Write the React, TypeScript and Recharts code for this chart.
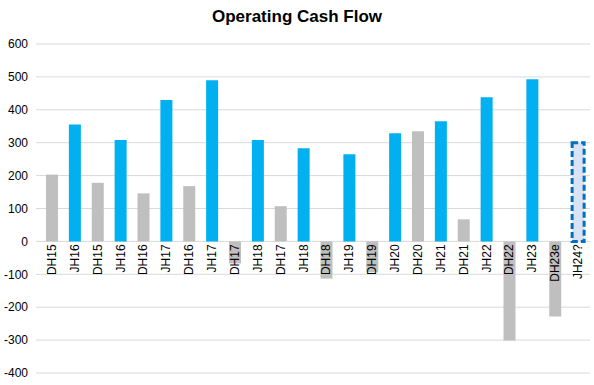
import React from "react";
import { BarChart, Bar, XAxis, YAxis, CartesianGrid, Cell, LabelList } from "recharts";

const categories = [
  "DH15", "JH16", "DH15", "JH16", "DH16", "JH17", "DH16", "JH17",
  "DH17", "JH18", "DH17", "JH18", "DH18", "JH19", "DH19", "JH20",
  "DH20", "JH21", "DH21", "JH22", "DH22", "JH23", "DH23e", "JH24?",
];
const values = [
  203, 355, 178, 308, 146, 430, 168, 490,
  -67, 308, 107, 283, -113, 265, -94, 329,
  335, 365, 67, 438, -301, 493, -228, 300,
];
const forecast = ["JH24?"];
const yTicks = [-400, -300, -200, -100, 0, 100, 200, 300, 400, 500, 600];

const data = categories.map((name, i) => ({ name, value: values[i] }));

const W = 594;
const H = 385;
const M_TOP = 44;
const M_BOTTOM = 12;
const PLOT_H = H - M_TOP - M_BOTTOM;
const Y_MIN = -400;
const Y_MAX = 600;
const ZERO_Y = M_TOP + (PLOT_H * Y_MAX) / (Y_MAX - Y_MIN);

const BLUE = "#00B0F0";
const GRAY = "#BFBFBF";
const FONT = "'Liberation Sans', Arial, sans-serif";

function NameLabel(props: any) {
  const { x, width, index } = props;
  const cx = x + width / 2;
  const y = ZERO_Y + 3;
  return (
    <text
      x={cx}
      y={y}
      transform={`rotate(-90, ${cx}, ${y})`}
      textAnchor="end"
      dominantBaseline="central"
      fontSize={12}
      fontFamily={FONT}
      fill="#000"
    >
      {categories[index]}
    </text>
  );
}

export default function App() {
  return (
    <div style={{ position: "absolute", left: 0, top: 0, width: W, height: H, background: "#fff" }}>
      <div
        style={{
          position: "absolute",
          top: 7,
          width: W,
          textAlign: "center",
          fontFamily: FONT,
          fontWeight: "bold",
          fontSize: 17,
        }}
      >
        Operating Cash Flow
      </div>
      <BarChart
        width={W}
        height={H}
        data={data}
        margin={{ top: M_TOP, right: 4, bottom: M_BOTTOM, left: 0 }}
      >
        <CartesianGrid vertical={false} stroke="#D9D9D9" strokeWidth={1} />
        <XAxis dataKey="name" hide padding={{ left: 5, right: 0 }} />
        <YAxis
          width={36}
          domain={[Y_MIN, Y_MAX]}
          ticks={yTicks}
          interval={0}
          axisLine={false}
          tickLine={false}
          tick={{ fill: "#000", fontSize: 12, fontFamily: FONT }}
        />
        <Bar dataKey="value" barSize={12} isAnimationActive={false}>
          {data.map((d, i) => {
            const est = forecast.includes(d.name);
            return (
              <Cell
                key={`cell-${i}`}
                fill={est ? "#DAE3F3" : d.name.startsWith("JH") ? BLUE : GRAY}
                stroke={est ? "#0070C0" : "none"}
                strokeWidth={est ? 3 : 0}
                strokeDasharray={est ? "6 3" : undefined}
              />
            );
          })}
          <LabelList dataKey="name" content={<NameLabel />} />
        </Bar>
      </BarChart>
    </div>
  );
}
